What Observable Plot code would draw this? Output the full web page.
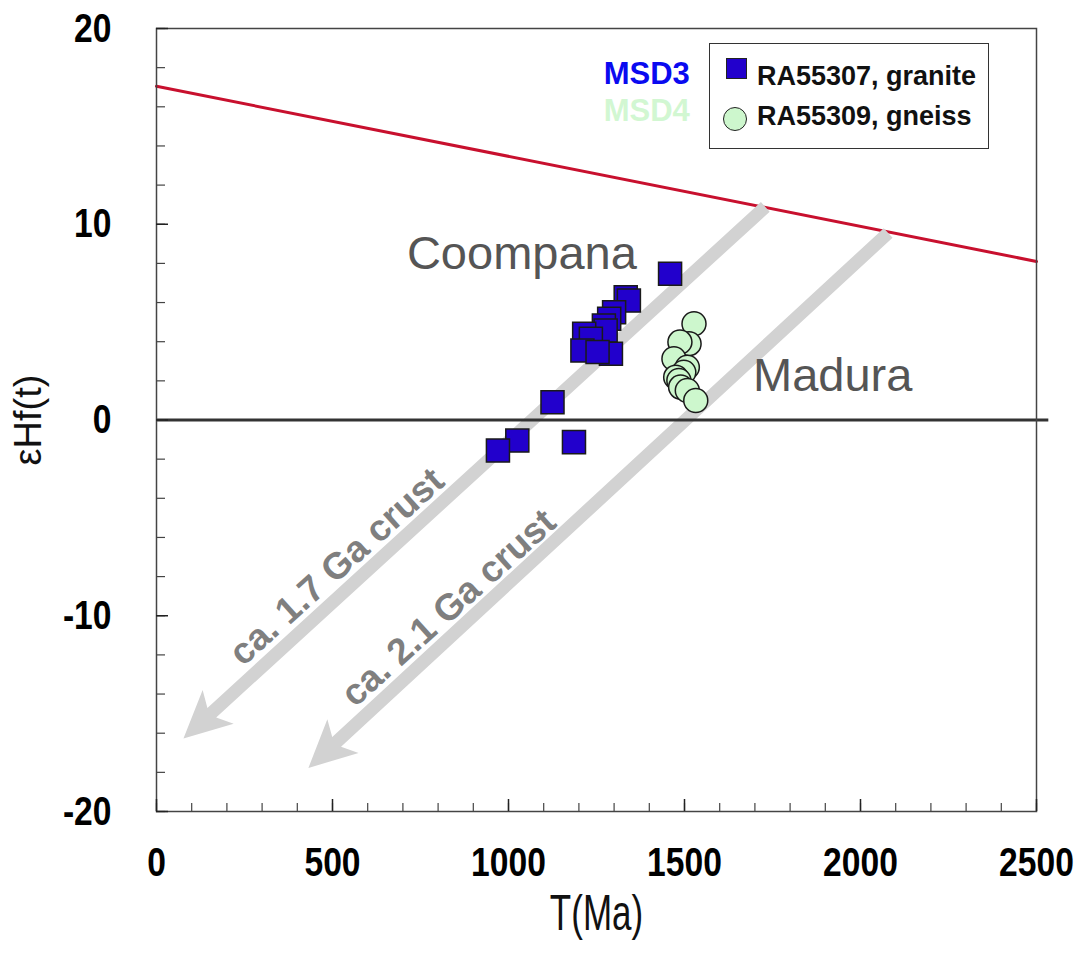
<!DOCTYPE html>
<html><head><meta charset="utf-8">
<script src="https://cdn.jsdelivr.net/npm/d3@7"></script>
<script src="https://cdn.jsdelivr.net/npm/@observablehq/plot@0.6"></script>
<style>
body{margin:0;background:#fff;}
#wrap{position:relative;width:1078px;height:956px;}
.legend{position:absolute;left:709px;top:43px;width:280px;height:106px;border:1.5px solid #333;background:#fff;box-sizing:border-box;font:bold 27px "Liberation Sans",Arial,sans-serif;color:#111;}
.legend span{position:absolute;line-height:1;white-space:nowrap;}
.sw{position:absolute;box-sizing:border-box;border:1.3px solid #222;}
</style></head><body><div id="wrap"></div>
<script>
// Granite RA55307 (MSD3): T (Ma) and εHf(t)
const graniteT  = [1459, 1333, 1342, 1300, 1286, 1271, 1276, 1215, 1234, 1291, 1210, 1253, 1125, 1025, 970, 1186];
const graniteHf = [7.47, 6.27, 6.10, 5.50, 5.17, 4.83, 4.57, 4.40, 4.15, 3.38, 3.55, 3.47, 0.91, -1.05, -1.56, -1.13];
// Gneiss RA55309 (MSD4)
const gneissT  = [1527, 1513, 1487, 1470, 1508, 1498, 1475, 1484, 1489, 1508, 1532];
const gneissHf = [4.92, 3.90, 3.98, 3.13, 2.70, 2.44, 2.19, 2.02, 1.68, 1.51, 1.00];
// Depleted mantle line
const dmT  = [0, 2500];
const dmHf = [17.05, 8.1];
// Zero reference line extent
const zeroT = [0, 2535];
// Crustal evolution arrows
const arrowLabels = ["ca. 1.7 Ga crust", "ca. 2.1 Ga crust"];
const arrowT1  = [1731, 2080];
const arrowHf1 = [10.86, 9.53];
const arrowT2  = [78, 433];
const arrowHf2 = [-16.3, -17.8];
const arrowLabelT  = [512, 830];
const arrowLabelHf = [-7.5, -9.6];
// Region labels
const regions = ["Coompana", "Madura"];
const regionT  = [1038, 1921];
const regionHf = [8.5, 2.27];
// Sample group labels
const groups = ["MSD3", "MSD4"];
const groupColors = ["#0a0af0", "#d2f7d2"];
const groupT  = [1515, 1515];
const groupHf = [17.65, 15.8];
// Ticks
const xMinor = d3.range(0, 2501, 100);
const xMajor = [0, 500, 1000, 1500, 2000, 2500];
const yMinor = d3.range(-20, 21, 2);
const yMajor = [-20, -10, 0, 10, 20];

const granite = graniteT.map((t, i) => ({t, hf: graniteHf[i]}));
const gneiss = gneissT.map((t, i) => ({t, hf: gneissHf[i]}));
const dm = dmT.map((t, i) => ({t, hf: dmHf[i]}));
const arrows = arrowLabels.map((label, i) => ({label, t1: arrowT1[i], e1: arrowHf1[i], t2: arrowT2[i], e2: arrowHf2[i], lt: arrowLabelT[i], le: arrowLabelHf[i]}));
const regionData = regions.map((name, i) => ({name, t: regionT[i], hf: regionHf[i]}));
const groupData = groups.map((name, i) => ({name, color: groupColors[i], t: groupT[i], hf: groupHf[i]}));

function arrowRender(index, scales, values) {
  const g = d3.create("svg:g");
  const L = 47, N = 35, W = 23, S = 6.5;
  for (const i of index) {
    const x1 = values.x1[i], y1 = values.y1[i], x2 = values.x2[i], y2 = values.y2[i];
    const dx = x2 - x1, dy = y2 - y1, len = Math.hypot(dx, dy);
    const ux = dx / len, uy = dy / len, nx = -uy, ny = ux;
    const j = N + (L - N) * S / W;
    const pts = [
      [x1 + nx * S, y1 + ny * S],
      [x2 - ux * j + nx * S, y2 - uy * j + ny * S],
      [x2 - ux * L + nx * W, y2 - uy * L + ny * W],
      [x2, y2],
      [x2 - ux * L - nx * W, y2 - uy * L - ny * W],
      [x2 - ux * j - nx * S, y2 - uy * j - ny * S],
      [x1 - nx * S, y1 - ny * S]
    ];
    g.append("path").attr("d", "M" + pts.map(p => p.join(",")).join("L") + "Z").attr("fill", "#d2d2d2");
  }
  return g.node();
}

const chart = Plot.plot({
  width: 1078, height: 956,
  marginLeft: 156, marginRight: 42, marginTop: 28, marginBottom: 145,
  x: {domain: [0, 2500]},
  y: {domain: [-20, 20]},
  style: {fontFamily: "'Liberation Sans', Arial, sans-serif", background: "white", overflow: "visible"},
  marks: [
    Plot.line(dm, {x: "t", y: "hf", stroke: "#c8102e", strokeWidth: 3}),
    Plot.link(arrows, {x1: "t1", y1: "e1", x2: "t2", y2: "e2", render: arrowRender}),
    Plot.text(arrows, {x: "lt", y: "le", text: "label", rotate: -42, fill: "#7f7f7f", fontWeight: "bold", fontSize: 37}),
    Plot.ruleY([0], {x1: () => zeroT[0], x2: () => zeroT[1], stroke: "#333", strokeWidth: 3}),
    Plot.text(regionData, {x: "t", y: "hf", text: "name", fill: "#555", fontSize: 47}),
    Plot.text(groupData, {x: "t", y: "hf", text: "name", textAnchor: "end", fill: "color", fontWeight: "bold", fontSize: 31}),
    Plot.dot(gneiss, {x: "t", y: "hf", r: 12, fill: "#cdf7cd", stroke: "#1a1a1a", strokeWidth: 1.5}),
    Plot.dot(granite, {x: "t", y: "hf", symbol: "square", r: 13, fill: "#2200cc", stroke: "#1a1a1a", strokeWidth: 1.5}),
    Plot.frame({stroke: "#444", strokeWidth: 1.5}),
    // inward ticks
    Plot.axisY({ticks: yMinor, tickSize: 9, dx: 9, fill: "none", label: null, stroke: "#444", strokeWidth: 1.2}),
    Plot.axisY({ticks: yMajor, tickSize: 12, dx: 12, fill: "none", label: null, stroke: "#222", strokeWidth: 1.5}),
    Plot.axisX({ticks: xMinor, tickSize: 8, dy: -8, fill: "none", label: null, stroke: "#444", strokeWidth: 1.2}),
    Plot.axisX({ticks: xMajor, tickSize: 12, dy: -12, fill: "none", label: null, stroke: "#222", strokeWidth: 1.5}),
    // tick labels
    Plot.axisY({ticks: yMajor, tickSize: 0, tickPadding: 45, label: null, tickFormat: d => String(d), fontWeight: "bold", fontSize: 41, fill: "#000"}),
    Plot.axisX({ticks: xMajor, tickSize: 0, tickPadding: 35, label: null, tickFormat: d => String(d), fontWeight: "bold", fontSize: 41, fill: "#000"}),
    // axis titles
    Plot.text(["εHf(t)"], {frameAnchor: "left", textAnchor: "middle", dx: -128, rotate: -90, fontSize: 38, fill: "#111"}),
    Plot.text(["T(Ma)"], {frameAnchor: "bottom", textAnchor: "middle", dy: 118, fontSize: 50, fill: "#111"})
  ]
});

// condense text horizontally (narrow face as in the reference)
function condenseEl(t, k) {
  const tr = t.getAttribute("transform");
  if (tr) {
    t.setAttribute("transform", tr + ` scale(${k},1)`);
  } else {
    const x = +t.getAttribute("x") || 0, y = +t.getAttribute("y") || 0;
    t.removeAttribute("x"); t.removeAttribute("y");
    t.setAttribute("transform", `translate(${x},${y}) scale(${k},1)`);
  }
}
chart.querySelectorAll('g[aria-label="x-axis tick label"] text, g[aria-label="y-axis tick label"] text').forEach(t => condenseEl(t, 0.82));
chart.querySelectorAll('text').forEach(t => { if (t.textContent === "T(Ma)") condenseEl(t, 0.7); });

const wrap = document.getElementById("wrap");
wrap.appendChild(chart);
const leg = document.createElement("div");
leg.className = "legend";
leg.innerHTML = `
  <div class="sw" style="left:16px;top:14px;width:21px;height:21px;background:#2200cc"></div>
  <span style="left:47px;top:19px">RA55307, granite</span>
  <div class="sw" style="left:13px;top:63px;width:24px;height:24px;border-radius:50%;background:#cdf7cd"></div>
  <span style="left:47px;top:59px">RA55309, gneiss</span>`;
wrap.appendChild(leg);
</script>
</body></html>
